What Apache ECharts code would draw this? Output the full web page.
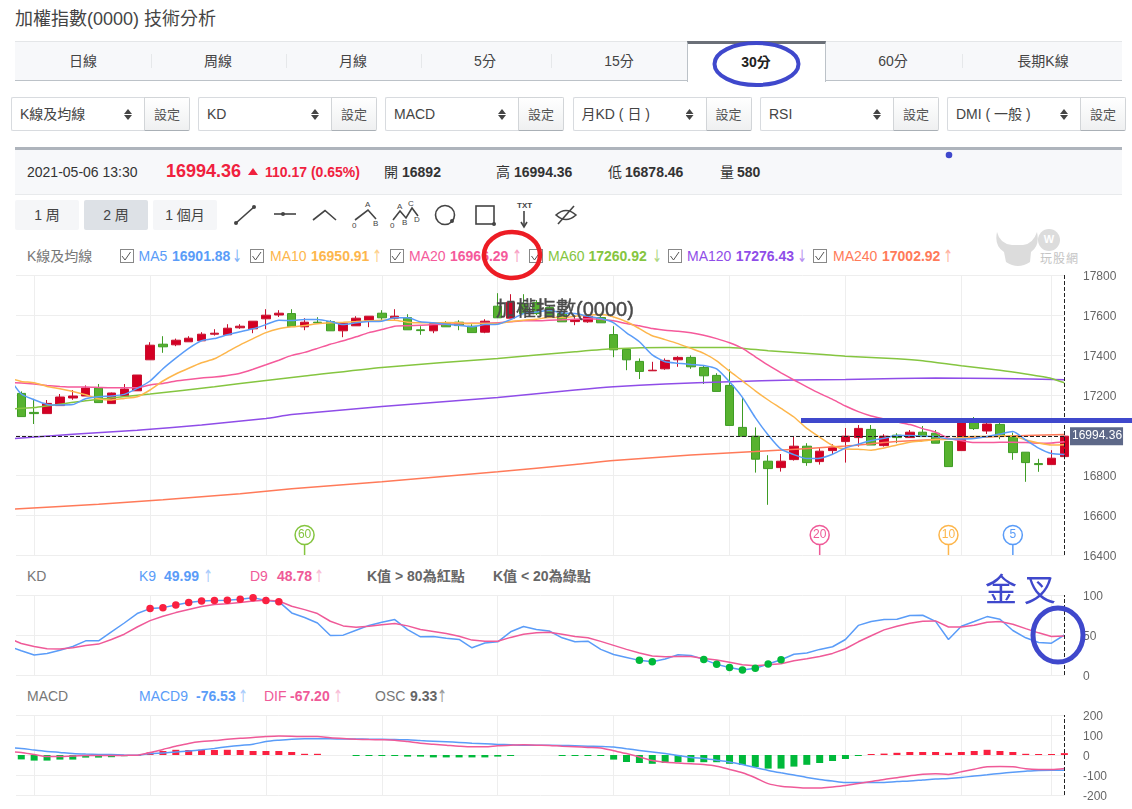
<!DOCTYPE html>
<html lang="zh-Hant">
<head>
<meta charset="utf-8">
<title>加權指數(0000) 技術分析</title>
<script src="https://cdn.jsdelivr.net/npm/echarts@6/dist/echarts.min.js"></script>
<style>
html,body{margin:0;padding:0;background:#fff;overflow:hidden}
body{width:1132px;height:809px;position:relative;font-family:"Liberation Sans","Noto Sans CJK TC",sans-serif;color:#444}
#ui,#chart,#notes{position:absolute;left:0;top:0;width:1132px;height:809px}
#notes{pointer-events:none}
.t{position:absolute;white-space:nowrap;transform:translateY(-50%);line-height:1}
.b{position:absolute;box-sizing:border-box}
</style>
</head>
<body>
<div id="ui"></div>
<div id="chart"></div>
<svg id="notes" viewBox="0 0 1132 809" xmlns="http://www.w3.org/2000/svg">
  <!-- hand-drawn style marks on top of the page -->
  <ellipse cx="756.5" cy="64" rx="42" ry="21" fill="none" stroke="#3f48cc" stroke-width="4"/>
  <circle cx="949" cy="155" r="3.3" fill="#3f48cc"/>
  <ellipse cx="512" cy="255" rx="28" ry="23" fill="none" stroke="#ed1c24" stroke-width="4.5"/>
  <rect x="801" y="418" width="331" height="5" fill="#3f48cc"/>
  <ellipse cx="1058" cy="635" rx="25" ry="27" fill="none" stroke="#3f48cc" stroke-width="5"/>
  <text x="985" y="601" font-size="32" fill="#3f48cc" font-family="Noto Sans CJK TC" letter-spacing="7">金叉</text>
</svg>
<script>
// Bar slots run 0..81; the left edge of the plot sits a little before bar 0.
const xFrom = -0.41, xTo = 81.05;
const dayBars = [1, 10, 19, 28, 37, 46, 55, 64, 73, 80];
const lastBar = 81;
const lastClose = 16994.36;

// [open, close, low, high] per 30-minute bar
const candles = [
[17208,17092,17092,17218],[17113,17107,17055,17181],[17107,17158,17107,17175],[17147,17190,17147,17205],
[17185,17195,17176,17225],[17195,17235,17195,17248],[17235,17162,17162,17255],[17157,17210,17157,17212],
[17195,17230,17195,17255],[17221,17300,17221,17300],[17376,17449,17376,17464],[17454,17441,17411,17494],
[17451,17474,17444,17482],[17466,17484,17466,17494],[17471,17504,17471,17514],[17504,17509,17497,17529],
[17501,17534,17501,17554],[17536,17544,17531,17554],[17531,17569,17509,17569],[17581,17599,17529,17629],
[17600,17609,17590,17624],[17607,17542,17542,17629],[17541,17564,17524,17584],[17564,17561,17557,17589],
[17567,17521,17521,17574],[17521,17559,17489,17559],[17546,17584,17546,17594],[17574,17594,17539,17594],
[17609,17586,17574,17624],[17584,17594,17577,17629],[17587,17526,17526,17604],[17526,17522,17501,17544],
[17521,17557,17509,17557],[17557,17541,17541,17569],[17564,17547,17524,17574],[17544,17512,17512,17554],
[17514,17569,17509,17579],[17644,17586,17586,17709],[17584,17664,17584,17704],[17657,17607,17607,17704],
[17662,17607,17600,17674],[17637,17599,17599,17650],[17607,17566,17566,17624],[17567,17577,17549,17594],
[17566,17594,17561,17600],[17587,17561,17561,17607],[17502,17426,17389,17544],[17428,17376,17324,17428],
[17368,17318,17280,17383],[17321,17324,17321,17366],[17331,17373,17326,17383],[17376,17388,17341,17394],
[17388,17341,17331,17398],[17338,17296,17255,17349],[17298,17218,17218,17309],[17248,17048,17048,17328],
[17038,16994,16994,17185],[16994,16879,16812,17038],[16869,16832,16651,16899],[16837,16869,16817,16905],
[16877,16944,16872,16995],[16944,16862,16846,16959],[16867,16919,16852,16934],[16922,16939,16905,16954],
[16967,16994,16862,17035],[16987,17033,16942,17050],[17028,16950,16950,17050],[16947,16994,16942,17004],
[16999,16987,16959,17009],[16987,17014,16987,17025],[17014,16992,16992,17045],[17009,16959,16959,17025],
[16967,16842,16842,16967],[16922,17080,16922,17080],[17082,17032,17025,17090],[17020,17055,17005,17062],
[17053,16995,16979,17062],[16997,16912,16876,17012],[16914,16862,16766,16914],[16857,16852,16816,16881],
[16852,16884,16852,16924],[16892,16994.36,16878.46,16994.36]
];

// Short averages: one value per bar, starting one slot before the first bar
const ma5 = [17291,17205,17176,17153,17150,17152,17181,17191,17195,17203,17233,17270,17331,17384,17433,17471,17482,17501,17516,17531,17552,17574,17572,17577,17577,17567,17552,17561,17567,17569,17586,17586,17566,17561,17554,17549,17541,17552,17554,17577,17607,17615,17624,17610,17607,17594,17582,17561,17511,17466,17401,17366,17359,17353,17348,17331,17266,17188,17087,17000,16929,16902,16882,16884,16904,16935,16954,16972,16984,16997,16997,16994,16992,16980,16980,16982,16992,17005,17017,16975,16934,16907,16901.88];
const ma10 = [17285,17268,17261,17243,17231,17218,17201,17181,17175,17183,17191,17225,17270,17305,17334,17361,17381,17416,17451,17482,17512,17531,17541,17547,17556,17561,17564,17567,17571,17574,17574,17564,17561,17561,17562,17561,17557,17557,17557,17567,17574,17579,17587,17587,17594,17600,17602,17590,17566,17532,17496,17477,17457,17433,17408,17371,17319,17271,17221,17175,17133,17090,17033,16989,16947,16930,16929,16924,16935,16950,16964,16970,16977,16979,16987,16992,16992,16995,16995,16975,16960,16950,16950.91];
const ma20 = [17263,17260,17255,17248,17243,17240,17240,17238,17236,17236,17236,17250,17258,17270,17278,17285,17290,17298,17309,17329,17351,17374,17398,17413,17433,17454,17471,17491,17512,17527,17544,17546,17549,17552,17554,17557,17559,17559,17561,17566,17571,17571,17574,17576,17579,17581,17579,17571,17557,17546,17532,17524,17519,17511,17499,17482,17461,17433,17391,17349,17311,17275,17241,17208,17178,17145,17117,17095,17080,17065,17052,17032,17014,16984,16972,16962,16962,16964,16964,16962,16959,16960,16966.29];

// Long averages: [bar, value] read at wider steps
const ma60 = [[-1,17130],[1,17137],[5,17171],[10,17205],[15,17241],[19,17273],[22,17295],[28,17338],[37,17383],[43,17416],[46,17431],[50,17438],[55,17438],[58,17421],[62,17404],[64,17394],[68,17381],[70,17371],[73,17346],[76,17324],[78,17305],[80,17283],[81,17260.92]];
const ma120 = [[-1,16980],[4,17004],[9,17024],[14,17050],[19,17083],[21,17102],[28,17142],[37,17188],[43,17225],[46,17241],[50,17255],[55,17266],[60,17275],[64,17278],[68,17283],[71,17285],[76,17283],[81,17276.43]];
const ma240 = [[-1,16628],[6,16654],[11,16676],[17,16706],[21,16731],[28,16766],[37,16816],[43,16852],[46,16872],[52,16900],[57,16917],[64,16945],[68,16967],[73,16984],[78,16997],[81,17002.92]];

// KD, starting one slot before the first bar
const kLine = [36,30.3,24.9,27,31,35.7,42.7,42.7,54,65,76.8,83,84.2,87.5,90.5,92.5,93,93.4,94.6,96.7,93,91.7,77.6,71.8,65,49.4,49.8,56,62,66,69.3,56.8,47.7,48,46,44.4,34,40,41.5,54,60.6,57,55,46.5,41.5,42.3,32,25.7,22,18.3,16.6,20,25.3,24.5,19.5,13.3,9.5,6.2,8.3,13.7,19.1,26,27.4,32,35.3,44.4,62,66.8,69.3,69.7,74.3,74.7,67,44.4,61,66.8,73,69.7,55.6,46.5,40.7,39.8,49.99];
const dLine = [46,39.4,35.7,32.8,32.4,34,37,38.6,44.4,51,60,68,73.4,78,82,85.5,88,89.2,90.5,92.5,93.3,92.5,86,81.7,76.8,67.2,61.4,59.8,61,62.7,64.3,61.4,56.8,54.4,51.9,48.5,43.6,42.3,42.3,47,51,52.7,53.5,51,48,46.5,42,37,32,27.4,23.7,22.8,23.2,23.2,20.7,18.7,15.8,12.9,11.6,12.9,14,17.8,20.3,23.2,27,32.8,41.5,49,56.4,61,64.7,67.2,67.6,60,60,62.2,66,66.8,63.5,58,52.7,48.1,48.78];

// MACD, starting one slot before the first bar
const macd9 = [36,33,25,18,13,8,5,3,2,0,-1,7,10,15,20,26,33,41,48,54,67,74,79,81,81,81,80,80,79,79,77,76,72,69,66,63,59,56,53,51,49,49,49,48,46,44,43,40,31,23,15,7,-2,-12,-18,-26,-35,-48,-63,-77,-89,-100,-112,-122,-130,-137,-138,-138,-137,-133,-130,-125,-120,-117,-112,-105,-99,-92,-86,-81,-77,-76,-76.53];
const dif = [16,13,2,-8,-8,-5,-3,-3,-3,-2,-1,12,28,44,58,67,72,79,84,87,92,95,94,92,92,86,82,79,77,76,74,67,59,54,49,44,41,41,46,49,51,49,48,44,41,38,35,21,7,-10,-28,-36,-40,-44,-48,-56,-72,-89,-114,-143,-156,-161,-165,-165,-160,-153,-142,-132,-122,-114,-104,-96,-94,-97,-84,-71,-59,-58,-59,-69,-72,-72,-67.2];
// OSC per bar from bar 0; null where nothing is drawn
const osc = [-22,-28,-28,-23,-23,-13,-13,-11,-6,-1,13,20,26,25,26,25,26,25,20,20,20,15,6,6,null,null,-4,-4,-4,-5,-8,-8,-12,-12,-12,-12,-12,-8,-4,null,null,null,-3,-4,-4,-4,-23,-35,-40,-44,-40,-36,-36,-36,-36,-44,-50,-60,-68,-68,-58,-49,-40,-30,-20,-5,2,7,11,15,15,15,11,15,20,26,20,15,6,3,3,9.33];

// Average markers pinned to the bottom of the price panel
const pins = [
  {bar: 22, label: '60', color: '#85c540'},
  {bar: 62, label: '20', color: '#ef5a98'},
  {bar: 72, label: '10', color: '#fdb64c'},
  {bar: 77, label: '5', color: '#5a9cf8'}
];

const colors = {ma5:'#5a9cf8',ma10:'#fdb64c',ma20:'#f55a9b',ma60:'#85c540',ma120:'#8f4de8',ma240:'#ff7a59',
  up:'#d40024',upEdge:'#c8102e',down:'#57b22f',downEdge:'#3e9c24',hot:'#fa2040',cold:'#00b93a',grid:'#eeeeee'};

const perBar = arr => arr.map((v, i) => [i - 1, v]);

const lineSeries = (data, color, grid, smooth) => ({
  type:'line', data, xAxisIndex:grid, yAxisIndex:grid, showSymbol:false, symbol:'none',
  smooth, z:3, lineStyle:{color, width:1.5}, itemStyle:{color}, silent:true, clip:true
});

const dayLines = grid => ({
  type:'line', data:[], xAxisIndex:grid, yAxisIndex:grid, silent:true, z:1,
  markLine:{z:1, silent:true, symbol:'none', animation:false, label:{show:false},
    lineStyle:{type:'solid', color:colors.grid, width:1}, data:dayBars.map(b => ({xAxis:b}))}
});

const cursor = (grid, extra) => ({
  type:'line', data:[], xAxisIndex:grid, yAxisIndex:grid, silent:true, z:6,
  markLine:{z:6, silent:true, symbol:'none', animation:false,
    lineStyle:{type:'dashed', color:'#222', width:1},
    data:[{xAxis:lastBar, label:{show:false}}].concat(extra || [])}
});

const closeLine = {
  yAxis:lastClose,
  label:{show:true, position:'end', distance:5, formatter:() => lastClose.toFixed(2), color:'#fff', fontSize:12,
    fontFamily:'Liberation Sans', backgroundColor:'#5d6888', padding:[3,1,3,2]}
};

const yAxisBase = (grid, min, max, interval) => ({
  type:'value', gridIndex:grid, position:'right', min, max, interval, scale:false,
  axisLine:{show:false}, axisTick:{show:false},
  axisLabel:{margin:18, color:'#666', fontSize:12, fontFamily:'Liberation Sans', hideOverlap:false,
    showMinLabel:true, showMaxLabel:true, verticalAlign:'top', padding:[-4,0,0,0], formatter:v => String(v)},
  splitLine:{show:true, lineStyle:{color:colors.grid, width:1}}
});

const xAxisBase = grid => ({type:'value', gridIndex:grid, min:xFrom, max:xTo, show:false, splitLine:{show:false}});

const option = {
  animation:false,
  backgroundColor:'transparent',
  title:{text:'加權指數(0000)', left:496, top:300, padding:0, z:10,
    textStyle:{fontSize:20, fontWeight:'normal', color:'#4a4a4a', textBorderColor:'#4a4a4a', textBorderWidth:0.4,
      fontFamily:'Liberation Sans, Noto Sans CJK TC'}},
  grid:[
    {left:16, width:1049, top:275, height:280},
    {left:16, width:1049, top:595, height:80},
    {left:16, width:1049, top:715, height:80}
  ],
  xAxis:[xAxisBase(0), xAxisBase(1), xAxisBase(2)],
  yAxis:[yAxisBase(0,16400,17800,200), yAxisBase(1,0,100,50), yAxisBase(2,-200,200,100)],
  series:[
    dayLines(0), dayLines(1), dayLines(2),
    {
      type:'candlestick', xAxisIndex:0, yAxisIndex:0, silent:true, z:2, barWidth:9,
      data:candles.map((c, i) => [i, c[0], c[1], c[2], c[3]]),
      encode:{x:0, y:[1,2,3,4]},
      itemStyle:{color:colors.up, color0:colors.down, borderColor:colors.upEdge, borderColor0:colors.downEdge, borderWidth:1}
    },
    lineSeries(ma240, colors.ma240, 0, 0.2),
    lineSeries(ma120, colors.ma120, 0, 0.2),
    lineSeries(ma60, colors.ma60, 0, 0.2),
    lineSeries(perBar(ma20), colors.ma20, 0, 0.2),
    lineSeries(perBar(ma10), colors.ma10, 0, 0.2),
    lineSeries(perBar(ma5), colors.ma5, 0, 0.2),
    cursor(0, [closeLine]),
    {
      type:'custom', xAxisIndex:0, yAxisIndex:0, silent:true, z:5, clip:false,
      data:pins.map(p => [p.bar, 16400]),
      encode:{x:0, y:1},
      renderItem(params, api){
        const pin = pins[params.dataIndex];
        const [x, y] = api.coord([pin.bar, 16400]);
        return {type:'group', children:[
          {type:'line', shape:{x1:x, y1:y-10, x2:x, y2:y}, style:{stroke:pin.color, lineWidth:1.5}},
          {type:'circle', shape:{cx:x, cy:y-20, r:9.5}, style:{fill:'#fff', stroke:pin.color, lineWidth:1.5}},
          {type:'text', x, y:y-20, style:{text:pin.label, fill:pin.color, fontSize:12, fontFamily:'Liberation Sans', align:'center', verticalAlign:'middle'}}
        ]};
      }
    },
    lineSeries(perBar(kLine), colors.ma5, 1, false),
    lineSeries(perBar(dLine), '#ef5a98', 1, false),
    {
      type:'scatter', xAxisIndex:1, yAxisIndex:1, silent:true, z:5, symbolSize:7.5,
      data:perBar(kLine).filter(p => p[1] > 80), itemStyle:{color:colors.hot, opacity:1}
    },
    {
      type:'scatter', xAxisIndex:1, yAxisIndex:1, silent:true, z:5, symbolSize:7.5,
      data:perBar(kLine).filter(p => p[1] < 20), itemStyle:{color:colors.cold, opacity:1}
    },
    cursor(1),
    {
      type:'bar', xAxisIndex:2, yAxisIndex:2, silent:true, z:2, barWidth:7, barMinHeight:1,
      data:osc.map((v, i) => [i, v]).filter(p => p[1] !== null),
      itemStyle:{color:p => p.value[1] > 0 ? colors.hot : colors.cold}
    },
    lineSeries(perBar(macd9), colors.ma5, 2, 0.3),
    lineSeries(perBar(dif), '#ef5a98', 2, 0.3),
    cursor(2)
  ]
};

echarts.init(document.getElementById('chart'), null, {renderer:'canvas'}).setOption(option);

// ---- Page furniture around the chart ----
const ui = document.getElementById('ui');
const box = (x, y, w, h, css) => {
  const d = document.createElement('div');
  d.className = 'b';
  d.style.cssText = `left:${x}px;top:${y}px;width:${w}px;height:${h}px;${css || ''}`;
  ui.appendChild(d);
};
const text = (x, cy, s, css) => {
  const d = document.createElement('div');
  d.className = 't';
  d.textContent = s;
  d.style.cssText = `left:${x}px;top:${cy}px;${css || ''}`;
  ui.appendChild(d);
  return d;
};
const centered = (cx, cy, s, css) => {
  const d = text(cx, cy, s, css);
  d.style.transform = 'translate(-50%,-50%)';
};

text(15, 19, '加權指數(0000) 技術分析', 'font-size:18px;color:#444');

// Period tabs
box(15, 41, 1107, 40, 'background:#f7f8fa;border-top:1px solid #e4e6e8;border-bottom:1px solid #bcc2c8');
[[150.5],[286],[421],[550.5],[962]].forEach(([x]) => box(x, 54, 1, 14, 'background:#e6e8ea'));
const tabs = [['日線',83],['周線',218],['月線',353],['5分',485],['15分',619],['60分',893],['長期K線',1043]];
tabs.forEach(([s, x]) => centered(x, 61, s, 'font-size:14px;color:#444'));
box(687, 41, 139, 41, 'background:#fff;border-top:3px solid #6b7078;border-left:1px solid #bcc2c8;border-right:1px solid #bcc2c8');
centered(756, 62, '30分', 'font-size:14px;font-weight:bold;color:#222');

// Indicator pickers
const pickers = [['K線及均線',11],['KD',198],['MACD',385],['月KD ( 日 )',572.5],['RSI',760],['DMI ( 一般 )',947]];
pickers.forEach(([s, x]) => {
  box(x, 97, 134, 34, 'background:#fff;border:1px solid #d8dbdf;border-right:none;border-radius:2px 0 0 2px');
  box(x + 133, 97, 46, 34, 'background:linear-gradient(#fff,#eff0f1);border:1px solid #d2d5d8;border-bottom:1px solid #aab0b6;border-radius:0 2px 2px 0');
  text(x + 9, 114, s, 'font-size:14px;color:#444');
  centered(x + 156, 114, '設定', 'font-size:13px;color:#555');
  box(x + 113, 109, 8, 5, 'background:#444;clip-path:polygon(50% 0,100% 100%,0 100%)');
  box(x + 113, 115, 8, 5, 'background:#444;clip-path:polygon(0 0,100% 0,50% 100%)');
});

// Quote strip
box(15, 147, 1107, 48, 'background:#f7f8fa;border-top:3px solid #aeb4bc;border-bottom:1px solid #e8eaec');
text(27, 172, '2021-05-06 13:30', 'font-size:14px;color:#333');
text(166, 171, '16994.36', 'font-size:18px;font-weight:bold;color:#f0213e');
box(248, 168, 10, 7, 'background:#f0213e;clip-path:polygon(50% 0,100% 100%,0 100%)');
text(265, 172, '110.17 (0.65%)', 'font-size:14px;font-weight:bold;color:#f0213e');
[['開',384,'16892',402],['高',496,'16994.36',514],['低',608,'16878.46',625],['量',720,'580',737]].forEach(([a, ax, b, bx]) => {
  text(ax, 172, a, 'font-size:14px;color:#333');
  text(bx, 172, b, 'font-size:14px;font-weight:bold;color:#333');
});

// Range buttons
[['1 周',15,'#f5f6f8'],['2 周',84,'#dde1e6'],['1 個月',153,'#f5f6f8']].forEach(([s, x, bg]) => {
  box(x, 200, 64, 30, `background:${bg};border-radius:2px`);
  centered(x + 32, 215, s, 'font-size:14px;color:#444');
});

// Indicator read-outs; the thin arrows are drawn taller than the digits
const arrowCss = color => `font-size:17px;color:${color};font-family:"DejaVu Sans";transform:translateY(-50%) scaleX(0.7);transform-origin:left center`;
const readout = (cy, items) => items.forEach(([s, x, color, weight]) => {
  const isArrow = s === '↑' || s === '↓';
  text(x, cy, s, isArrow ? arrowCss(color) : `font-size:14px;color:${color};font-weight:${weight || 'normal'}`);
});
text(27, 256, 'K線及均線', 'font-size:14px;color:#777');
const maRow = [
  ['MA5',138.6,'16901.88',172,'↓',232,119.5,colors.ma5,'#7fb2f8'],
  ['MA10',270,'16950.91',311,'↑',372,250,colors.ma10,'#fdd08a'],
  ['MA20',409,'16966.29',450,'↑',512,389.5,colors.ma20,'#f8a0c4'],
  ['MA60',548,'17260.92',588.4,'↓',652,529,colors.ma60,'#add77f'],
  ['MA120',687,'17276.43',735.7,'↓',797,668,colors.ma120,'#b88ff0'],
  ['MA240',833,'17002.92',882,'↑',943,813,colors.ma240,'#ffb29f']
];
let checks = '';
maRow.forEach(([a, ax, b, bx, c, cx, bxX, col, pale]) => {
  box(bxX, 249, 14, 14, 'background:#fff;border:1px solid #888');
  checks += `<path d="M${bxX + 2.5} 256L${bxX + 5.5} 260L${bxX + 11} 252"/>`;
  readout(256, [[a, ax, col], [b, bx, col, 'bold'], [c, cx, pale]]);
});
readout(576, [['KD',27,'#777'],['K9',139,colors.ma5],['49.99',164,colors.ma5,'bold'],['↑',203,'#a9cbfb'],
  ['D9',250,'#ef5a98'],['48.78',277,'#ef5a98','bold'],['↑',314,'#f8bcd6'],
  ['K值 > 80為紅點',367,'#666','bold'],['K值 < 20為綠點',493,'#666','bold']]);
readout(696, [['MACD',27,'#777'],['MACD9',139,colors.ma5],['-76.53',196,colors.ma5,'bold'],['↑',238,'#a9cbfb'],
  ['DIF',264,'#ef5a98'],['-67.20',290,'#ef5a98','bold'],['↑',333,'#f8bcd6'],
  ['OSC',375,'#777'],['9.33',410,'#666','bold'],['↑',437,'#999']]);

// Checkmarks, drawing tool icons and the site badge
ui.insertAdjacentHTML('beforeend', `
<svg style="position:absolute;left:0;top:0" width="1132" height="300" viewBox="0 0 1132 300" xmlns="http://www.w3.org/2000/svg">
  <g fill="none" stroke="#555" stroke-width="1">${checks}</g>
  <g fill="none" stroke="#444" stroke-width="1.6">
    <path d="M236 223L254 207"/><path d="M274 214H296"/><path d="M313 220L325 210.5L336 220"/>
    <path d="M355 220L368 210L376 219"/><path d="M393 220L400 211L406 218L412 208L418 216"/>
    <circle cx="445" cy="215" r="9.5"/><rect x="476" y="206" width="18" height="18"/>
    <path d="M524 211V226"/><path d="M521 222L524 227L527 222"/>
    <path d="M556 215Q566 206 576 215Q566 224 556 215Z"/><path d="M558 224L574 206"/>
  </g>
  <g fill="#444">
    <circle cx="236" cy="223" r="2"/><circle cx="254" cy="207" r="2"/><circle cx="283" cy="214" r="2"/>
    <circle cx="452" cy="221" r="2"/><circle cx="494" cy="224" r="2"/>
  </g>
  <g fill="#444" font-size="8" font-family="Liberation Sans">
    <text x="365" y="207">A</text><text x="373" y="226">B</text><text x="352" y="228">0</text>
    <text x="397" y="209">A</text><text x="408" y="206">C</text><text x="402" y="225">B</text>
    <text x="414" y="222">D</text><text x="390" y="228">0</text>
    <text x="517" y="208" font-weight="bold">TXT</text>
  </g>
  <g fill="#dcdcdc">
    <path d="M997 232Q1000 244 1012 245L1023 245Q1033 244 1037 232Q1040 246 1031 252L1030 262Q1018 270 1006 262L1004 252Q994 246 997 232Z"/>
    <circle cx="1049" cy="240" r="11"/>
  </g>
  <text x="1049" y="243" text-anchor="middle" font-size="11" font-weight="bold" fill="#fff" font-family="Liberation Sans">W</text>
  <text x="1040" y="263" font-size="12" fill="#c4c4c4" font-family="Noto Sans CJK TC" letter-spacing="1">玩股網</text>
</svg>`);
</script>
</body>
</html>
